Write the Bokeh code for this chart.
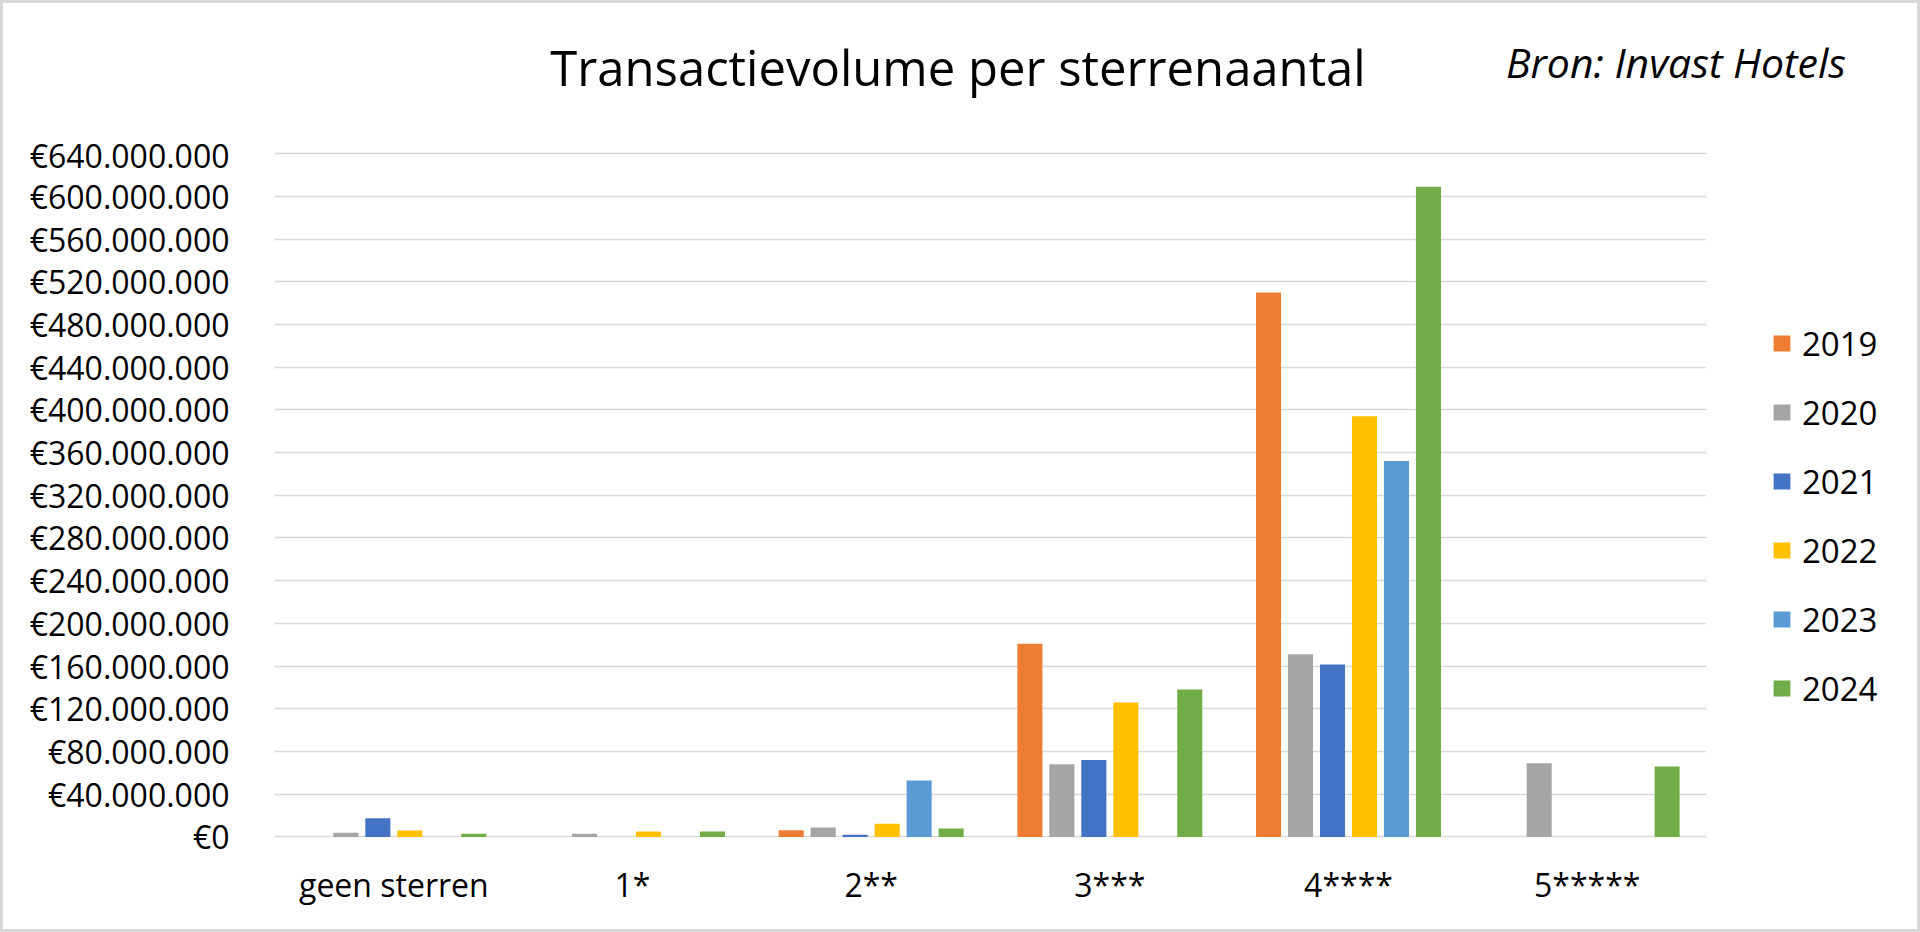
from bokeh.plotting import figure
from bokeh.models import (ColumnDataSource, FactorRange, Range1d, FixedTicker,
                          CustomJSTickFormatter, Legend, LegendItem, Div)
from bokeh.layouts import column, row
from bokeh.transform import dodge
from bokeh.embed import file_html
from bokeh.resources import INLINE

# ---------------- data (values in euro) ----------------
categories = ["geen sterren", "1*", "2**", "3***", "4****", "5*****"]
years = ["2019", "2020", "2021", "2022", "2023", "2024"]
v2019 = [0, 0, 6.3e6, 181e6, 510e6, 0]
v2020 = [4e6, 3e6, 8.9e6, 68e6, 171e6, 69e6]
v2021 = [17.5e6, 0, 1.9e6, 72e6, 161.5e6, 0]
v2022 = [6e6, 5e6, 12.3e6, 126e6, 394e6, 0]
v2023 = [0, 0, 52.8e6, 0, 352e6, 0]
v2024 = [3e6, 5e6, 7.9e6, 138e6, 609e6, 66e6]
y_ticks = [i * 40e6 for i in range(17)]
colors = ["#ED7D31", "#A5A5A5", "#4472C4", "#FFC000", "#5B9BD5", "#70AD47"]

title_text = "Transactievolume per sterrenaantal"
source_text = "Bron: Invast Hotels"

series = [v2019, v2020, v2021, v2022, v2023, v2024]
data = {"cat": categories}
for y, s in zip(years, series):
    data["y" + y] = s
src = ColumnDataSource(data)

FONT = "Open Sans"
W = 1904
HEAD = 120
H = 916 - HEAD
WM = 1720          # width of the chart figure
WL = W - WM        # width of the legend figure

header = Div(width=W, height=HEAD, text=f"""
<div style="position:relative;width:{W}px;height:{HEAD}px;font-family:'Open Sans';color:#000;">
  <div style="position:absolute;left:950px;top:35px;transform:translateX(-50%);
              font-size:49px;line-height:49px;white-space:nowrap;">{title_text}</div>
  <div style="position:absolute;left:1498px;top:34px;font-size:41px;line-height:41px;
              font-style:italic;white-space:nowrap;">{source_text}</div>
</div>""")

p = figure(width=WM, height=H, output_backend="svg", toolbar_location=None,
           x_range=FactorRange(*categories, range_padding=0),
           y_range=Range1d(-1.5e6, 642e6),
           min_border_left=271, min_border_right=WM - 271 - 1432,
           min_border_top=18, min_border_bottom=91)
p.background_fill_color = "white"
p.border_fill_color = "white"
p.outline_line_color = None

pitch = 0.134
bar_w = 0.105
for i, y in enumerate(years):
    p.vbar(x=dodge("cat", (i - 2.5) * pitch, range=p.x_range), top="y" + y,
           bottom=0, width=bar_w, source=src, fill_color=colors[i],
           line_color=None)

# grid
p.xgrid.grid_line_color = None
p.ygrid.grid_line_color = "#d9d9d9"
p.ygrid.grid_line_width = 1.7

# axes
p.yaxis.ticker = FixedTicker(ticks=y_ticks)
p.yaxis.formatter = CustomJSTickFormatter(code="""
const s = Math.round(tick).toString().replace(/\\B(?=(\\d{3})+(?!\\d))/g, ".");
return "\u20ac" + s;
""")
for ax in (p.xaxis, p.yaxis):
    ax.axis_line_color = None
    ax.major_tick_line_color = None
    ax.minor_tick_line_color = None
    ax.major_tick_out = 0
    ax.major_tick_in = 0
    ax.minor_tick_out = 0
    ax.major_label_text_font = FONT
    ax.major_label_text_font_size = "32px"
    ax.major_label_text_color = "#000000"
p.yaxis.major_label_standoff = 45
p.xaxis.major_label_standoff = 24

# legend figure (key swatches only, same colours as the series)
lg = figure(width=WL, height=H, output_backend="svg", toolbar_location=None,
            x_range=Range1d(0, 1), y_range=Range1d(0, 1),
            x_axis_type=None, y_axis_type=None,
            min_border_left=0, min_border_right=0,
            min_border_top=0, min_border_bottom=0)
lg.grid.visible = False
lg.outline_line_color = None
lg.background_fill_color = "white"
lg.border_fill_color = "white"
key_src = ColumnDataSource({"x": [-5.0], "top": [0.0]})   # off-canvas key stub
items = []
for i, y in enumerate(years):
    r = lg.vbar(x="x", top="top", width=0.1, source=key_src,
                fill_color=colors[i], line_color=None)
    items.append(LegendItem(label=y, renderers=[r]))
legend = Legend(items=items, location=(48, 126), orientation="vertical",
                glyph_width=21, glyph_height=20, label_height=48, spacing=21,
                label_standoff=10, padding=0, margin=0,
                label_text_font=FONT, label_text_font_size="33px",
                label_text_color="#000000", border_line_color=None,
                background_fill_alpha=0)
lg.add_layout(legend)

layout = column(header, row(p, lg, spacing=0), spacing=0,
                styles={"border": "3px solid #d9d9d9"})

open("out.html", "w").write(file_html(layout, INLINE))
